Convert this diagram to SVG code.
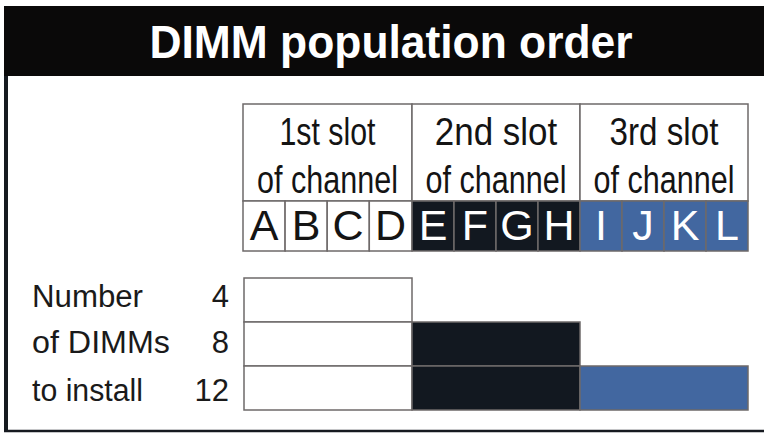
<svg xmlns="http://www.w3.org/2000/svg" width="764" height="433" viewBox="0 0 764 433">
<style>
.t{font-family:"Liberation Sans",Arial,sans-serif;}
.hd{font-size:39px;fill:#141414;text-anchor:middle;}
.lt{font-size:43px;text-anchor:middle;}
.lb{font-size:31px;fill:#1a1a1a;}
.cell{stroke:#6e6969;stroke-width:1.5;}
.w{fill:#ffffff;}
.k{fill:#121820;}
.b{fill:#4267a0;}
</style>
<rect x="0" y="0" width="764" height="433" fill="#ffffff"/>
<g id="frame">
<rect x="4" y="6" width="760" height="70" fill="#0a0909"/>
<line x1="6" y1="76" x2="6" y2="431" stroke="#161a20" stroke-width="4"/>
<line x1="4" y1="431" x2="764" y2="431" stroke="#161a20" stroke-width="2.5"/>
<text class="t" x="391" y="58" font-size="47" font-weight="bold" fill="#ffffff" text-anchor="middle" textLength="483" lengthAdjust="spacingAndGlyphs">DIMM population order</text>
</g>
<g id="slot-headers">
<rect class="cell w" x="243" y="104" width="169" height="97"/>
<rect class="cell w" x="412" y="104" width="168" height="97"/>
<rect class="cell w" x="580" y="104" width="168" height="97"/>
<g transform="translate(327.5,0) scale(0.8,1)">
<text class="t hd" x="0" y="145" textLength="120" lengthAdjust="spacingAndGlyphs">1st slot</text>
<text class="t hd" x="0" y="193" textLength="176" lengthAdjust="spacingAndGlyphs">of channel</text>
</g>
<g transform="translate(496,0) scale(0.8,1)">
<text class="t hd" x="0" y="145" textLength="153" lengthAdjust="spacingAndGlyphs">2nd slot</text>
<text class="t hd" x="0" y="193" textLength="176" lengthAdjust="spacingAndGlyphs">of channel</text>
</g>
<g transform="translate(664,0) scale(0.8,1)">
<text class="t hd" x="0" y="145" textLength="136" lengthAdjust="spacingAndGlyphs">3rd slot</text>
<text class="t hd" x="0" y="193" textLength="176" lengthAdjust="spacingAndGlyphs">of channel</text>
</g>
</g>
<g id="channels">
<rect class="cell w" x="243" y="201" width="42.1" height="50"/>
<rect class="cell w" x="285.1" y="201" width="42.1" height="50"/>
<rect class="cell w" x="327.2" y="201" width="42.1" height="50"/>
<rect class="cell w" x="369.3" y="201" width="42.7" height="50"/>
<rect class="cell k" x="412" y="201" width="42" height="50"/>
<rect class="cell k" x="454" y="201" width="42" height="50"/>
<rect class="cell k" x="496" y="201" width="42" height="50"/>
<rect class="cell k" x="538" y="201" width="42" height="50"/>
<rect class="cell b" x="580" y="201" width="42" height="50"/>
<rect class="cell b" x="622" y="201" width="42" height="50"/>
<rect class="cell b" x="664" y="201" width="42" height="50"/>
<rect class="cell b" x="706" y="201" width="42" height="50"/>
<text class="t lt" x="264" y="240" fill="#141414">A</text>
<text class="t lt" x="306" y="240" fill="#141414">B</text>
<text class="t lt" x="348" y="240" fill="#141414">C</text>
<text class="t lt" x="390.5" y="240" fill="#141414">D</text>
<text class="t lt" x="433" y="240" fill="#ffffff">E</text>
<text class="t lt" x="475" y="240" fill="#ffffff">F</text>
<text class="t lt" x="517" y="240" fill="#ffffff">G</text>
<text class="t lt" x="559" y="240" fill="#ffffff">H</text>
<text class="t lt" x="601" y="240" fill="#ffffff">I</text>
<text class="t lt" x="643" y="240" fill="#ffffff">J</text>
<text class="t lt" x="685" y="240" fill="#ffffff">K</text>
<text class="t lt" x="727" y="240" fill="#ffffff">L</text>
</g>
<g id="labels">
<text class="t lb" x="32" y="307" textLength="111" lengthAdjust="spacingAndGlyphs">Number</text>
<text class="t lb" x="32" y="353" textLength="138" lengthAdjust="spacingAndGlyphs">of DIMMs</text>
<text class="t lb" x="32" y="401" textLength="111" lengthAdjust="spacingAndGlyphs">to install</text>
<text class="t lb" x="229" y="307" text-anchor="end">4</text>
<text class="t lb" x="229" y="353" text-anchor="end">8</text>
<text class="t lb" x="229" y="401" text-anchor="end">12</text>
</g>
<g id="row-4">
<rect class="cell w" x="244" y="278" width="168" height="44"/>
</g>
<g id="row-8">
<rect class="cell w" x="244" y="322" width="168" height="44"/>
<rect class="cell k" x="412" y="322" width="168" height="44"/>
</g>
<g id="row-12">
<rect class="cell w" x="244" y="366" width="168" height="44"/>
<rect class="cell k" x="412" y="366" width="168" height="44"/>
<rect class="cell b" x="580" y="366" width="168" height="44"/>
</g>
</svg>
